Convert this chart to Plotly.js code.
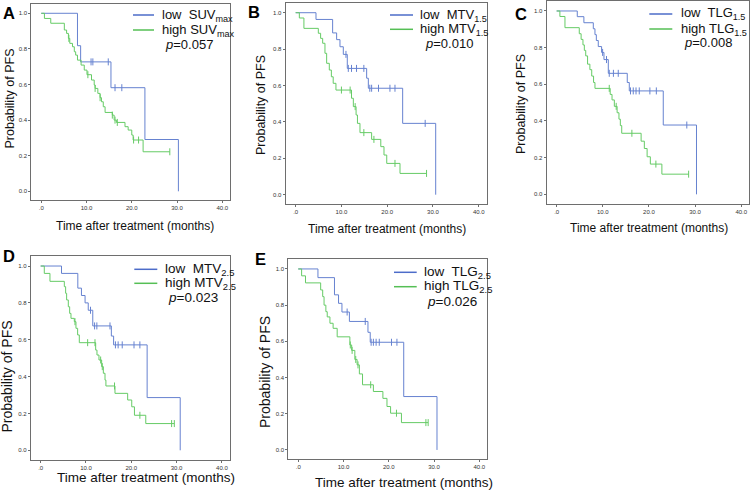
<!DOCTYPE html>
<html><head><meta charset="utf-8">
<script src="https://cdn.plot.ly/plotly-3.0.1.min.js"></script>
<style>html,body{margin:0;padding:0;background:#fff}#chart{width:753px;height:492px}</style>
</head><body><div id="chart"></div>
<script>
// ---------- DATA (months, survival probability) ----------
const panelLetters = ['A','B','C','D','E'];
const lowLabels  = ['low\u00a0 SUV<sub>max</sub>','low\u00a0 MTV<sub>1.5</sub>','low\u00a0 TLG<sub>1.5</sub>','low\u00a0 MTV<sub>2.5</sub>','low\u00a0 TLG<sub>2.5</sub>'];
const highLabels = ['high SUV<sub>max</sub>','high MTV<sub>1.5</sub>','high TLG<sub>1.5</sub>','high MTV<sub>2.5</sub>','high TLG<sub>2.5</sub>'];
const pValues = ['0.057','0.010','0.008','0.023','0.026'];
const xTickVals = [0,10,20,30,40];
const xTickText = ['.0','10.0','20.0','30.0','40.0'];
const yTickVals = [0,0.2,0.4,0.6,0.8,1.0];
const yTickText = ['0.0','0.2','0.4','0.6','0.8','1.0'];
const xTitle = 'Time after treatment (months)';
const yTitle = 'Probability of PFS';

// Panel A
const A_low_t = [0, 8.0, 8.7, 15.4, 22.9, 30.3];
const A_low_s = [1.0, 0.818, 0.727, 0.582, 0.291, 0.0];
const A_low_c = [11.0, 11.4, 14.8, 16.3, 17.8];
const A_high_t = [0,0.7,2.1,5.1,5.6,6.0,6.3,6.9,7.3,7.6,8.0,8.8,9.5,10.1,11.1,11.7,11.9,12.5,13.0,13.3,13.7,14.1,15.7,16.1,16.6,18.5,19.2,20.0,20.3,22.5,28.4];
const A_high_s = [1,0.971,0.944,0.906,0.887,0.859,0.831,0.812,0.784,0.765,0.737,0.709,0.681,0.655,0.625,0.597,0.578,0.55,0.526,0.503,0.475,0.443,0.428,0.40,0.387,0.363,0.344,0.316,0.288,0.222,0.222];
const A_high_c = [6.1, 10.3, 11.9, 13.0, 15.7, 16.3, 16.8, 20.4, 21.5, 28.4];
// Panel B
const B_low_t = [0, 4.44, 8.08, 8.95, 9.68, 10.41, 11.28, 15.51, 15.88, 23.38, 30.6];
const B_low_s = [1, 0.963, 0.889, 0.852, 0.813, 0.771, 0.694, 0.640, 0.585, 0.392, 0];
const B_low_c = [10.99, 11.5, 12.2, 13.3, 14.9, 16.2, 16.6, 18.1, 20.6, 21.7, 28.3];
const B_high_t = [0,0.8,1.8,4.95,5.45,5.9,6.4,6.77,7.35,7.8,8.2,8.8,12.2,12.6,13.2,13.5,14.05,16.6,18.6,19.3,19.9,22.8,28.6];
const B_high_s = [1,0.971,0.914,0.887,0.859,0.832,0.777,0.722,0.685,0.648,0.612,0.575,0.53,0.484,0.438,0.392,0.341,0.304,0.264,0.218,0.172,0.117,0.117];
const B_high_c = [10.0, 11.9, 13.0, 14.9, 17.1, 21.7, 28.6];
// Panel C
const C_low_t = [0, 4.47, 5.9, 7.94, 8.3, 8.6, 9.02, 9.74, 10.25, 11.19, 15.3, 15.74, 23.1, 30.3];
const C_low_s = [1, 0.969, 0.936, 0.903, 0.871, 0.839, 0.806, 0.774, 0.735, 0.66, 0.61, 0.564, 0.378, 0];
const C_low_c = [9.96, 10.8, 11.4, 12.3, 13.35, 16.0, 16.6, 17.2, 17.9, 20.2, 21.6, 28.2];
const C_high_t = [0,0.7,1.8,4.9,5.3,5.7,6.0,6.3,6.7,7.2,7.6,8.0,8.3,11.6,12.0,12.5,13.1,13.5,13.8,14.1,18.3,19.0,19.6,20.3,22.8,28.6];
const C_high_s = [1,0.97,0.909,0.876,0.845,0.815,0.785,0.755,0.71,0.68,0.645,0.61,0.578,0.545,0.515,0.48,0.445,0.41,0.375,0.333,0.29,0.25,0.205,0.165,0.11,0.11];
const C_high_c = [11.4, 12.9, 16.3, 21.5, 28.6];
// Panel D
const D_low_t = [0, 4.6, 8.2, 9.0, 9.8, 10.5, 11.5, 15.6, 16.1, 23.5, 30.8];
const D_low_s = [1, 0.96, 0.88, 0.84, 0.80, 0.76, 0.675, 0.62, 0.572, 0.286, 0];
const D_low_c = [11.0, 11.9, 12.4, 15.3, 16.5, 17.1, 18.0, 20.6, 21.9];
const D_high_t = [0,0.8,2.05,5.22,5.51,5.73,6.1,6.4,6.69,7.42,7.79,8.16,8.53,12.14,12.43,12.87,13.46,13.83,14.2,14.4,16.4,19.2,20.1,20.7,23.2,29.5];
const D_high_s = [1,0.96,0.917,0.888,0.852,0.816,0.779,0.743,0.716,0.698,0.662,0.626,0.584,0.544,0.517,0.49,0.454,0.418,0.381,0.349,0.309,0.273,0.236,0.19,0.145,0.145];
const D_high_c = [7.57, 10.37, 11.99, 13.24, 13.6, 16.3, 21.9, 28.9, 29.5];
// Panel E
const E_low_t = [0, 4.35, 8.0, 8.9, 9.65, 11.3, 15.4, 15.9, 23.3, 30.65];
const E_low_s = [1, 0.952, 0.857, 0.81, 0.762, 0.71, 0.65, 0.595, 0.295, 0];
const E_low_c = [10.8, 14.8, 16.1, 16.6, 17.2, 17.9, 20.6, 21.8];
const E_high_t = [0,0.74,1.6,4.95,5.4,5.7,6.1,6.4,7.0,7.7,8.6,11.4,11.8,12.5,13.0,13.5,14.2,16.6,18.7,19.6,20.4,22.8,28.7];
const E_high_s = [1,0.962,0.923,0.884,0.847,0.80,0.764,0.735,0.70,0.672,0.625,0.58,0.55,0.50,0.47,0.42,0.36,0.323,0.285,0.24,0.203,0.151,0.151];
const E_high_c = [11.5, 11.9, 12.7, 13.2, 16.0, 21.7, 28.2, 28.7];

// ---------- LAYOUT GEOMETRY (pixels) ----------
const W = 753, H = 492;
const geo = [
  {x:[31.3,230.0], y:[3.5,200.2], letter:[9,13], leg:[133,154,15,30,160,163,44], xt:[135,226], yt:[9.5,99], fs:12},
  {x:[285.6,486.5], y:[2.7,203.8], letter:[254,12], leg:[390,413,15,29.3,418.3,423.3,43.3], xt:[386.7,229], yt:[261,105], fs:12},
  {x:[546.5,749.1], y:[0.9,203.5], letter:[520.5,14], leg:[649.3,672.3,14,29,679,681.7,42.7], xt:[648.8,227.7], yt:[521,104], fs:12},
  {x:[30.7,229.6], y:[255.9,459.5], letter:[9,255.5], leg:[134.3,157.3,269.3,283.3,162.7,165.7,297.7], xt:[145.7,477.5], yt:[6.5,377], fs:13.5},
  {x:[288.3,487.0], y:[259,459], letter:[260,258.5], leg:[394,416.7,272.3,286.7,421.7,425.3,301.7], xt:[403.5,482], yt:[265,372], fs:13.5}
];
const COL_LOW = '#6682d0', COL_HIGH = '#66cb66';
const LEG_LOW = '#4d6cc9', LEG_HIGH = '#55bf55';
const FONT = 'Arial, "Liberation Sans", sans-serif';
const px = v => v / W, py = v => 1 - v / H;

const series = [
  [A_low_t,A_low_s,A_low_c,A_high_t,A_high_s,A_high_c],
  [B_low_t,B_low_s,B_low_c,B_high_t,B_high_s,B_high_c],
  [C_low_t,C_low_s,C_low_c,C_high_t,C_high_s,C_high_c],
  [D_low_t,D_low_s,D_low_c,D_high_t,D_high_s,D_high_c],
  [E_low_t,E_low_s,E_low_c,E_high_t,E_high_s,E_high_c]
];
function levelAt(ts, ss, t){ let v = ss[0]; for(let i=0;i<ts.length;i++){ if(ts[i] <= t) v = ss[i]; } return v; }

const traces = [], annotations = [], shapes = [];
const layout = {
  width: W, height: H, margin:{l:0,r:0,t:0,b:0},
  paper_bgcolor:'#fff', plot_bgcolor:'#fff', showlegend:false,
  font:{family:FONT, color:'#000'}
};

series.forEach((s, i) => {
  const n = i === 0 ? '' : String(i+1);
  const xa = 'x' + n, ya = 'y' + n;
  const g = geo[i];
  const [lt, ls, lc, ht, hs, hc] = s;
  traces.push({x:lt, y:ls, xaxis:xa, yaxis:ya, type:'scatter', mode:'lines', line:{shape:'hv', color:COL_LOW, width:1}, hoverinfo:'skip'});
  traces.push({x:ht, y:hs, xaxis:xa, yaxis:ya, type:'scatter', mode:'lines', line:{shape:'hv', color:COL_HIGH, width:1}, hoverinfo:'skip'});
  traces.push({x:lc, y:lc.map(t => levelAt(lt, ls, t)), xaxis:xa, yaxis:ya, type:'scatter', mode:'markers',
    marker:{symbol:'line-ns-open', size:5, color:COL_LOW, line:{color:COL_LOW, width:1}}, hoverinfo:'skip'});
  traces.push({x:hc, y:hc.map(t => levelAt(ht, hs, t)), xaxis:xa, yaxis:ya, type:'scatter', mode:'markers',
    marker:{symbol:'line-ns-open', size:5, color:COL_HIGH, line:{color:COL_HIGH, width:1}}, hoverinfo:'skip'});

  const axCommon = {showline:true, mirror:true, linecolor:'#6e6e6e', linewidth:1, showgrid:false, zeroline:false,
    ticks:'outside', ticklen:2, tickcolor:'#6e6e6e', tickfont:{size:6, color:'#333', family:FONT}, fixedrange:true};
  layout['xaxis'+n] = Object.assign({}, axCommon, {domain:[px(g.x[0]), px(g.x[1])], range:[-2.2, 41.7], anchor:ya,
    tickmode:'array', tickvals:xTickVals, ticktext:xTickText});
  layout['yaxis'+n] = Object.assign({}, axCommon, {domain:[py(g.y[1]), py(g.y[0])], range:[-0.05, 1.055], anchor:xa,
    tickmode:'array', tickvals:yTickVals, ticktext:yTickText});

  // panel letter
  annotations.push({xref:'paper', yref:'paper', x:px(g.letter[0]), y:py(g.letter[1]), xanchor:'center', yanchor:'middle',
    text:'<b>'+panelLetters[i]+'</b>', showarrow:false, font:{size:16.5, family:FONT, color:'#000'}});
  // axis titles
  annotations.push({xref:'paper', yref:'paper', x:px(g.xt[0]), y:py(g.xt[1]), xanchor:'center', yanchor:'middle',
    text:xTitle, showarrow:false, font:{size:g.fs, family:FONT, color:'#111'}});
  annotations.push({xref:'paper', yref:'paper', x:px(g.yt[0]), y:py(g.yt[1]), xanchor:'center', yanchor:'middle',
    text:yTitle, textangle:-90, showarrow:false, font:{size:g.fs+0.5, family:FONT, color:'#111'}});
  // legend
  const L = g.leg;
  shapes.push({type:'line', xref:'paper', yref:'paper', x0:px(L[0]), x1:px(L[1]), y0:py(L[2]), y1:py(L[2]), line:{color:LEG_LOW, width:1.5}});
  shapes.push({type:'line', xref:'paper', yref:'paper', x0:px(L[0]), x1:px(L[1]), y0:py(L[3]), y1:py(L[3]), line:{color:LEG_HIGH, width:1.5}});
  const lf = {size: i < 3 ? 13 : 13.5, family:FONT, color:'#111'};
  annotations.push({xref:'paper', yref:'paper', x:px(L[4]), y:py(L[2]), xanchor:'left', yanchor:'middle', text:lowLabels[i], showarrow:false, font:lf});
  annotations.push({xref:'paper', yref:'paper', x:px(L[4]), y:py(L[3]), xanchor:'left', yanchor:'middle', text:highLabels[i], showarrow:false, font:lf});
  annotations.push({xref:'paper', yref:'paper', x:px(L[5]), y:py(L[6]), xanchor:'left', yanchor:'middle', text:'<i>p</i>='+pValues[i], showarrow:false, font:lf});
});
layout.annotations = annotations;
layout.shapes = shapes;
Plotly.newPlot('chart', traces, layout, {staticPlot:true, displayModeBar:false});
</script></body></html>
